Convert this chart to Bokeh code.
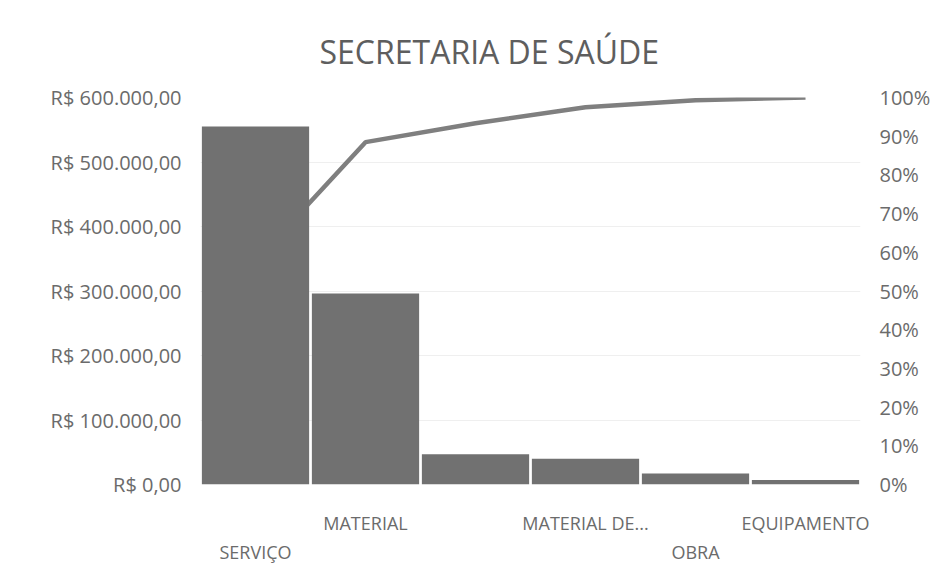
from bokeh.plotting import figure
from bokeh.models import LinearAxis, Range1d, FixedTicker, Title, Grid
from bokeh.embed import file_html
from bokeh.resources import INLINE

# ---- data ----
categories = ["SERVIÇO", "MATERIAL", "", "MATERIAL DE...", "OBRA", "EQUIPAMENTO"]
values = [555000, 296000, 47000, 40000, 17000, 7000]
left_ticks = [0, 100000, 200000, 300000, 400000, 500000, 600000]
left_tick_labels = ["R$ 0,00", "R$ 100.000,00", "R$ 200.000,00", "R$ 300.000,00",
                    "R$ 400.000,00", "R$ 500.000,00", "R$ 600.000,00"]
right_ticks = [0.0, 0.1, 0.2, 0.3, 0.4, 0.5, 0.6, 0.7, 0.8, 0.9, 1.0]
right_tick_labels = ["0%", "10%", "20%", "30%", "40%", "50%", "60%", "70%", "80%", "90%", "100%"]
title_text = "SECRETARIA DE SAÚDE"

# derived: cumulative share
total = sum(values)
cum = []
s = 0
for v in values:
    s += v
    cum.append(s / total)
idx = list(range(len(categories)))

FONT = "Open Sans"
TXT = "#6b6b6b"

p = figure(width=934, height=566, output_backend="svg", toolbar_location=None,
           x_range=Range1d(-0.5, len(categories) - 0.5),
           y_range=Range1d(0, 600000),
           x_axis_type=None, y_axis_type=None,
           min_border_left=200, min_border_right=74, min_border_top=97, min_border_bottom=80)
p.extra_y_ranges = {"pct": Range1d(0, 1)}
p.outline_line_color = None
p.background_fill_color = "white"

# title
p.title = Title(text=title_text, text_font=FONT, text_font_size="32px",
                text_font_style="normal", text_color="#5e5e5e", align="left",
                offset=119, standoff=50)

# grid
g = Grid(dimension=1, ticker=FixedTicker(ticks=left_ticks), grid_line_color="#efefef")
p.add_layout(g)

# cumulative line (drawn behind bars)
p.line(idx, cum, y_range_name="pct", line_color="#7f7f7f", line_width=4.5)

# bars
p.vbar(x=idx, top=values, width=0.975, fill_color="#717171", line_color=None)


def style(ax, size, standoff):
    ax.axis_line_color = None
    ax.major_tick_line_color = None
    ax.minor_tick_line_color = None
    ax.major_tick_out = 0
    ax.major_tick_in = 0
    ax.minor_tick_out = 0
    ax.major_label_text_font = FONT
    ax.major_label_text_font_size = size
    ax.major_label_text_color = TXT
    ax.major_label_standoff = standoff


# left axis
la = LinearAxis(ticker=FixedTicker(ticks=left_ticks),
                major_label_overrides={t: l for t, l in zip(left_ticks, left_tick_labels)})
style(la, "20px", 19)
# right axis
ra = LinearAxis(y_range_name="pct", ticker=FixedTicker(ticks=right_ticks),
                major_label_overrides={t: l for t, l in zip(right_ticks, right_tick_labels)})
style(ra, "20px", 19)
p.add_layout(la, "left")
p.add_layout(ra, "right")

# staggered category labels
upper = [i for i in idx if i % 2 == 1]
lower = [i for i in idx if i % 2 == 0]
xa1 = LinearAxis(ticker=FixedTicker(ticks=upper),
                 major_label_overrides={i: categories[i] for i in upper})
xa2 = LinearAxis(ticker=FixedTicker(ticks=lower),
                 major_label_overrides={i: categories[i] for i in lower})
style(xa1, "18px", 26)
style(xa2, "18px", 2)
p.add_layout(xa1, "below")
p.add_layout(xa2, "below")

open("out.html", "w").write(file_html(p, INLINE))
